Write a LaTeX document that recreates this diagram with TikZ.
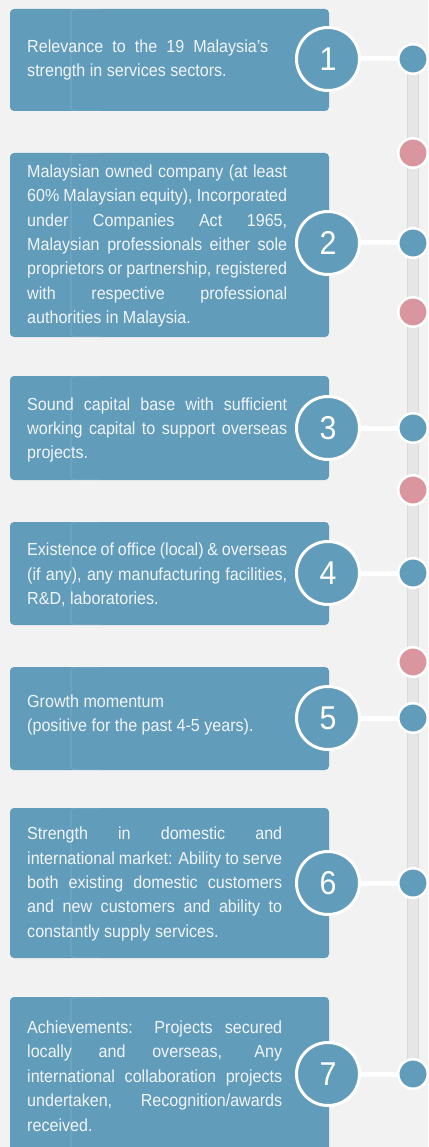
\documentclass[tikz,border=0pt]{standalone}
\usepackage{fontspec}
\setmainfont[FakeStretch=0.92]{Liberation Sans}
\definecolor{bgc}{RGB}{242,242,242}
\definecolor{boxc}{RGB}{98,156,187}
\definecolor{pinkc}{RGB}{217,150,158}
\definecolor{barc}{RGB}{230,230,230}
\definecolor{baredge}{RGB}{218,218,218}
\definecolor{txtc}{RGB}{240,245,249}
\tikzset{
  txt/.style={font=\fontsize{17.5}{24.4}\selectfont, text=txtc, align=justify, inner sep=0pt, anchor=west},
  numc/.style={circle, fill=boxc, draw=white, line width=3pt, minimum size=63pt, inner sep=0pt, text=white, font=\fontsize{33}{33}\selectfont},
  dotc/.style={circle, fill=boxc, draw=white, line width=2.5pt, minimum size=29.5pt, inner sep=0pt},
  pdot/.style={dotc, fill=pinkc},
  link/.style={draw=white, line width=5pt},
  card/.style={fill=boxc, rounded corners=4pt},
  fold/.style={draw=white, opacity=0.18, line width=0.6pt, rounded corners=4pt}
}
\newcommand\stagebox[6]{%
  \fill[card] (10,#2) rectangle (329,#3);
  \draw[fold] (100,#3) -- (71,#3) -- (71,#2) -- (100,#2);
  \node[txt, text width=#5] (t#1) at (27,#4) {#6};
}
\newcommand\stagemark[2]{%
  \node[numc] (c#1) at (328,#2) {#1};
  \node[dotc] (d#1) at (413,#2) {};
  \draw[link] (c#1) -- (d#1);
}
\begin{document}
\begin{tikzpicture}[x=1pt,y=-1pt]
\clip (0,0) rectangle (428,1147);
\fill[bgc] (0,0) rectangle (428,1147);
\coordinate (bartop) at (413,59);
\coordinate (barbot) at (413,1074);
\draw[baredge, line width=12pt] (bartop) -- (barbot);
\draw[barc, line width=9.5pt] (bartop) -- (barbot);

\stagebox{1}{9}{111}{60}{241pt}{Relevance to the 19 Malaysia’s\linebreak strength in services sectors.}
\stagebox{2}{153}{337}{246}{260pt}{Malaysian owned company (at least\linebreak 60\% Malaysian equity), Incorporated\linebreak under Companies Act 1965,\linebreak Malaysian professionals either sole\linebreak proprietors or partnership, registered\linebreak with respective professional\linebreak authorities in Malaysia.}
\stagebox{3}{376}{480}{430}{260pt}{Sound capital base with sufficient\linebreak working capital to support overseas\linebreak projects.}
\stagebox{4}{522}{625}{575}{260pt}{Existence of office (local) \& overseas\linebreak (if any), any manufacturing facilities,\linebreak R\&D, laboratories.}
\fill[card] (10,667) rectangle (329,770);
\draw[fold] (100,770) -- (71,770) -- (71,667) -- (100,667);
\node[txt, align=left] (t5) at (27,715) {Growth momentum\\(positive for the past 4-5 years).};
\stagebox{6}{808}{958}{884}{255pt}{Strength in domestic and\linebreak international market: Ability to serve\linebreak both existing domestic customers\linebreak and new customers and ability to\linebreak constantly supply services.}
\stagebox{7}{997}{1160}{1076}{255pt}{Achievements: Projects secured\linebreak locally and overseas, Any\linebreak international collaboration projects\linebreak undertaken, Recognition/awards\linebreak received.}

\stagemark{1}{59}
\stagemark{2}{243}
\stagemark{3}{428}
\stagemark{4}{573}
\stagemark{5}{718}
\stagemark{6}{883}
\stagemark{7}{1074}

\node[pdot] (p1) at (413,153) {};
\node[pdot] (p2) at (413,312) {};
\node[pdot] (p3) at (413,490) {};
\node[pdot] (p4) at (413,662) {};
\end{tikzpicture}
\end{document}
